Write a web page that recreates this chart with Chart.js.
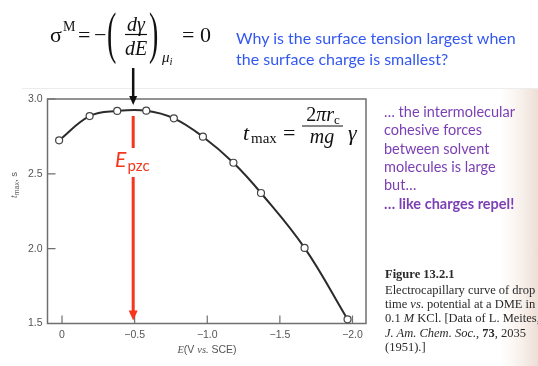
<!DOCTYPE html>
<html lang="en">
  <head>
    <meta charset="UTF-8" />
    <title>Electrocapillary curve</title>
    <script src="https://cdn.jsdelivr.net/npm/chart.js"></script>
    <style>
      body {
        margin: 0;
        background: #fff;
      }
      .page {
        position: relative;
        width: 538px;
        height: 366px;
        overflow: hidden;
      }
      .page canvas,
      .page svg {
        position: absolute;
        left: 0;
        top: 0;
      }
      .serif {
        font-family: "Liberation Serif", "DejaVu Serif", serif;
      }
      .sans {
        font-family: Lato, "Open Sans", sans-serif;
      }
    </style>
  </head>
  <body>
    <div class="page">
      <svg width="538" height="366" id="back">
        <defs>
          <linearGradient id="shade" x1="0" x2="1" y1="0" y2="0">
            <stop offset="0" stop-color="#f3e6dc" stop-opacity="0" />
            <stop offset="1" stop-color="#e9d6cb" stop-opacity="0.8" />
          </linearGradient>
        </defs>
        <rect x="500" y="89" width="38" height="277" fill="url(#shade)" />
        <line x1="22" y1="88.5" x2="538" y2="88.5" stroke="#ececec" />
      </svg>
      <canvas id="dropChart" width="538" height="366"></canvas>
      <svg width="538" height="366" id="front">
        <!-- surface charge at the pzc -->
        <g class="serif" fill="#111">
          <text x="50" y="42" font-size="22">σ</text>
          <text x="63" y="31" font-size="14">M</text>
          <text x="78" y="42" font-size="22">=</text>
          <text x="94" y="42" font-size="22">−</text>
          <text transform="translate(107,52) scale(1,2)" font-size="28">(</text>
          <text x="136" y="31" font-size="20" font-style="italic" text-anchor="middle">dγ</text>
          <line x1="125" y1="34.5" x2="147" y2="34.5" stroke="#111" stroke-width="1.2" />
          <text x="136" y="55" font-size="20" font-style="italic" text-anchor="middle">dE</text>
          <text transform="translate(149,52) scale(1,2)" font-size="28">)</text>
          <text x="162" y="62" font-size="15" font-style="italic">μ<tspan font-size="11" dy="3">i</tspan></text>
          <text x="182" y="42" font-size="22">= 0</text>
        </g>
        <g class="sans" fill="#3358f0" font-size="16">
          <text x="236" y="44">Why is the surface tension largest when</text>
          <text x="236" y="65">the surface charge is smallest?</text>
        </g>

        <!-- drop time formula -->
        <g class="serif" fill="#111">
          <text x="243" y="140" font-size="22" font-style="italic">t</text>
          <text x="251" y="143" font-size="15">max</text>
          <text x="283" y="140" font-size="22">=</text>
          <text x="323" y="121" font-size="20" text-anchor="middle">2<tspan font-style="italic">πr</tspan><tspan font-size="13" dy="3">c</tspan></text>
          <line x1="302" y1="126" x2="343" y2="126" stroke="#111" stroke-width="1.2" />
          <text x="322" y="143" font-size="20" font-style="italic" text-anchor="middle">mg</text>
          <text x="348" y="140" font-size="22" font-style="italic">γ</text>
        </g>

        <g class="sans" fill="#f5361c">
          <text x="115" y="167" font-size="21" font-style="italic">E</text>
          <text x="127.5" y="170.5" font-size="15">pzc</text>
        </g>

        <g class="sans" fill="#7b3fb5" font-size="14.5">
          <text x="384" y="117">… the intermolecular</text>
          <text x="384" y="135">cohesive forces</text>
          <text x="384" y="153.5">between solvent</text>
          <text x="384" y="172">molecules is large</text>
          <text x="384" y="190">but…</text>
          <text x="384" y="208.5" font-weight="bold">… like charges repel!</text>
        </g>

        <g class="serif" fill="#2a2a2a" font-size="12.5">
          <text x="385" y="277.5" font-weight="bold">Figure 13.2.1</text>
          <text x="385" y="293.5">Electrocapillary curve of drop</text>
          <text x="385" y="308">time <tspan font-style="italic">vs</tspan>. potential at a DME in</text>
          <text x="385" y="322">0.1 <tspan font-style="italic">M</tspan> KCl. [Data of L. Meites,</text>
          <text x="385" y="336.5"><tspan font-style="italic">J. Am. Chem. Soc.</tspan>, <tspan font-weight="bold">73</tspan>, 2035</text>
          <text x="385" y="351">(1951).]</text>
        </g>

        <!-- axis titles -->
        <g fill="#555">
          <text transform="translate(17,185) rotate(-90)" text-anchor="middle" font-size="9.5" font-family="Liberation Sans, sans-serif"><tspan font-style="italic" font-family="Liberation Serif, serif">t</tspan><tspan font-size="7" dy="2">max</tspan><tspan dy="-2">, s</tspan></text>
          <text x="207" y="353" text-anchor="middle" font-size="10.5" font-family="Liberation Sans, sans-serif"><tspan font-style="italic" font-family="Liberation Serif, serif">E</tspan>(V <tspan font-style="italic" font-family="Liberation Serif, serif">vs.</tspan> SCE)</text>
        </g>
      </svg>
    </div>

    <script>
      // Data of L. Meites: drop time vs potential at a DME in 0.1 M KCl
      const potential = [0.02, -0.19, -0.38, -0.58, -0.77, -0.97, -1.18, -1.37, -1.67, -1.966];
      const dropTime = [2.724, 2.886, 2.92, 2.922, 2.871, 2.748, 2.574, 2.372, 2.005, 1.528];
      const xTicks = [0, -0.5, -1.0, -1.5, -2.0];
      const yTicks = [1.5, 2.0, 2.5, 3.0];
      const ePzc = -0.49;

      const points = potential.map((e, i) => ({ x: e, y: dropTime[i] }));

      // Box with inward ticks and the E_pzc arrows
      const framePlugin = {
        id: "frame",
        beforeDatasetsDraw(chart) {
          const { ctx, chartArea: a, scales } = chart;
          ctx.save();
          ctx.strokeStyle = "#6f6f6f";
          ctx.lineWidth = 1.5;
          ctx.strokeRect(a.left, a.top, a.right - a.left, a.bottom - a.top);
          ctx.lineWidth = 1.2;
          ctx.beginPath();
          xTicks.forEach((v) => {
            const x = scales.x.getPixelForValue(v);
            ctx.moveTo(x, a.bottom);
            ctx.lineTo(x, a.bottom - 8);
          });
          yTicks.forEach((v) => {
            const y = scales.y.getPixelForValue(v);
            ctx.moveTo(a.left, y);
            ctx.lineTo(a.left + 8, y);
          });
          ctx.stroke();
          ctx.restore();
        },
        afterDatasetsDraw(chart) {
          const { ctx, chartArea: a } = chart;
          const x = chart.scales.x.getPixelForValue(ePzc);
          ctx.save();
          // black arrow from the formula
          ctx.strokeStyle = "#111";
          ctx.fillStyle = "#111";
          ctx.lineWidth = 2.5;
          ctx.beginPath();
          ctx.moveTo(x, 68);
          ctx.lineTo(x, a.top - 2);
          ctx.stroke();
          ctx.beginPath();
          ctx.moveTo(x - 4, a.top - 3);
          ctx.lineTo(x + 4, a.top - 3);
          ctx.lineTo(x, a.top + 6);
          ctx.fill();
          // red arrow down to the axis
          ctx.strokeStyle = "#f5361c";
          ctx.fillStyle = "#f5361c";
          ctx.lineWidth = 3;
          ctx.beginPath();
          ctx.moveTo(x, a.top + 17);
          ctx.lineTo(x, 148);
          ctx.moveTo(x, 177);
          ctx.lineTo(x, a.bottom - 12);
          ctx.stroke();
          ctx.beginPath();
          ctx.moveTo(x - 4.5, a.bottom - 13);
          ctx.lineTo(x + 4.5, a.bottom - 13);
          ctx.lineTo(x, a.bottom - 3);
          ctx.fill();
          ctx.restore();
        },
      };

      const fmt = (v) => (v === 0 ? "0" : (v < 0 ? "−" : "") + Math.abs(v).toFixed(1));
      const tickFont = { family: "Liberation Sans", size: 10.5 };

      const ctx = document.getElementById("dropChart").getContext("2d");
      new Chart(ctx, {
        type: "scatter",
        data: {
          datasets: [
            {
              data: points,
              showLine: true,
              tension: 0.4,
              borderColor: "#2b2b2b",
              borderWidth: 2,
              pointRadius: 3.5,
              pointBackgroundColor: "#fff",
              pointBorderColor: "#444",
              pointBorderWidth: 1.2,
              clip: false,
            },
          ],
        },
        options: {
          responsive: false,
          animation: false,
          layout: { padding: { top: 99, right: 172, left: 0, bottom: 0 } },
          plugins: { legend: { display: false }, tooltip: { enabled: false } },
          scales: {
            x: {
              type: "linear",
              reverse: true,
              min: -2.093,
              max: 0.1,
              afterBuildTicks: (s) => (s.ticks = xTicks.map((v) => ({ value: v }))),
              afterFit: (s) => (s.height = 42.5),
              grid: { display: false, drawTicks: false },
              border: { display: false },
              ticks: { padding: 5, color: "#555", font: tickFont, callback: fmt, maxRotation: 0 },
            },
            y: {
              min: 1.5,
              max: 3.0,
              afterBuildTicks: (s) => (s.ticks = yTicks.map((v) => ({ value: v }))),
              afterFit: (s) => (s.width = 47.5),
              grid: { display: false, drawTicks: false },
              border: { display: false },
              ticks: { padding: 5, color: "#555", font: tickFont, callback: fmt },
            },
          },
        },
        plugins: [framePlugin],
      });
    </script>
  </body>
</html>
